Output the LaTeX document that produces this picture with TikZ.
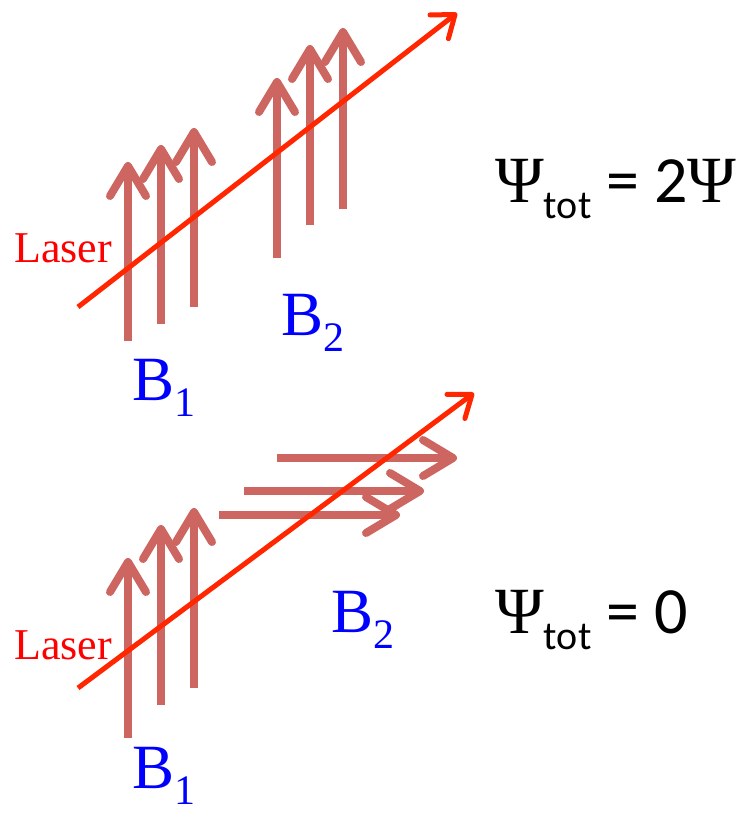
\documentclass[tikz,border=0pt]{standalone}
\usepackage{fontspec}
\setmainfont{Liberation Serif}
\newfontfamily\calfont{Carlito}
\usepackage{tikz}
\usetikzlibrary{arrows.meta}

\definecolor{laserred}{RGB}{255,38,0}
\definecolor{fieldred}{RGB}{205,102,96}
\definecolor{labelblue}{RGB}{0,0,255}

\newcommand{\bname}[1]{B\raisebox{-16pt}{\fontsize{42}{42}\selectfont #1}}
\newcommand{\psisym}{{\rmfamily Ψ}}
\newcommand{\psitot}{\psisym\raisebox{-16pt}{\fontsize{40}{40}\calfont tot}}

\begin{document}
\begin{tikzpicture}[
    x=1pt, y=-1pt,
    laser/.style={draw=laserred, line width=5pt,
                  -{Straight Barb[length=20pt, width=30pt, round]}},
    field/.style={draw=fieldred, line width=8pt,
                  -{Straight Barb[length=30pt, width=36pt, round]}},
    lasertext/.style={text=red, font=\fontsize{44}{44}\selectfont,
                      anchor=base west, inner sep=0pt},
    btext/.style={text=labelblue, font=\fontsize{63}{63}\selectfont,
                  anchor=base west, inner sep=0pt},
    psitext/.style={font=\fontsize{66}{66}\calfont,
                    anchor=base west, inner sep=0pt}
  ]
  \useasboundingbox (0,0) rectangle (753,815);

  % upper panel: both fields up
  \foreach \x/\ya/\yb [count=\i] in {128/341/162, 161/324/145, 194/307/128,
                                     277/258/78, 310/225/45, 343/209/28} {
    \coordinate (ua\i) at (\x,\ya);
    \coordinate (ub\i) at (\x,\yb);
    \draw[field] (ua\i) -- (ub\i);
  }
  \coordinate (uin) at (78,307);
  \coordinate (uout) at (457,13);
  \draw[laser] (uin) -- (uout);

  \node[lasertext] (ulaser) at (14,262) {Laser};
  \node[btext] (uBone) at (132,400) {\bname{1}};
  \node[btext] (uBtwo) at (281,335) {\bname{2}};
  \node[psitext] (upsi) at (495,202) {\psitot{} = 2\psisym};

  % lower panel: second field turned
  \foreach \x/\ya/\yb [count=\i] in {128/738/558, 161/705/525, 194/688/508} {
    \coordinate (la\i) at (\x,\ya);
    \coordinate (lb\i) at (\x,\yb);
    \draw[field] (la\i) -- (lb\i);
  }
  \foreach \y/\xa/\xb [count=\i] in {458/277/457, 491/244/424, 515/219/400} {
    \coordinate (ha\i) at (\xa,\y);
    \coordinate (hb\i) at (\xb,\y);
    \draw[field] (ha\i) -- (hb\i);
  }
  \coordinate (lin) at (78,688);
  \coordinate (lout) at (474,393);
  \draw[laser] (lin) -- (lout);

  \node[lasertext] (llaser) at (14,659) {Laser};
  \node[btext] (lBone) at (132,788) {\bname{1}};
  \node[btext] (lBtwo) at (331,632) {\bname{2}};
  \node[psitext] (lpsi) at (495,633) {\psitot{} = 0};
\end{tikzpicture}
\end{document}
